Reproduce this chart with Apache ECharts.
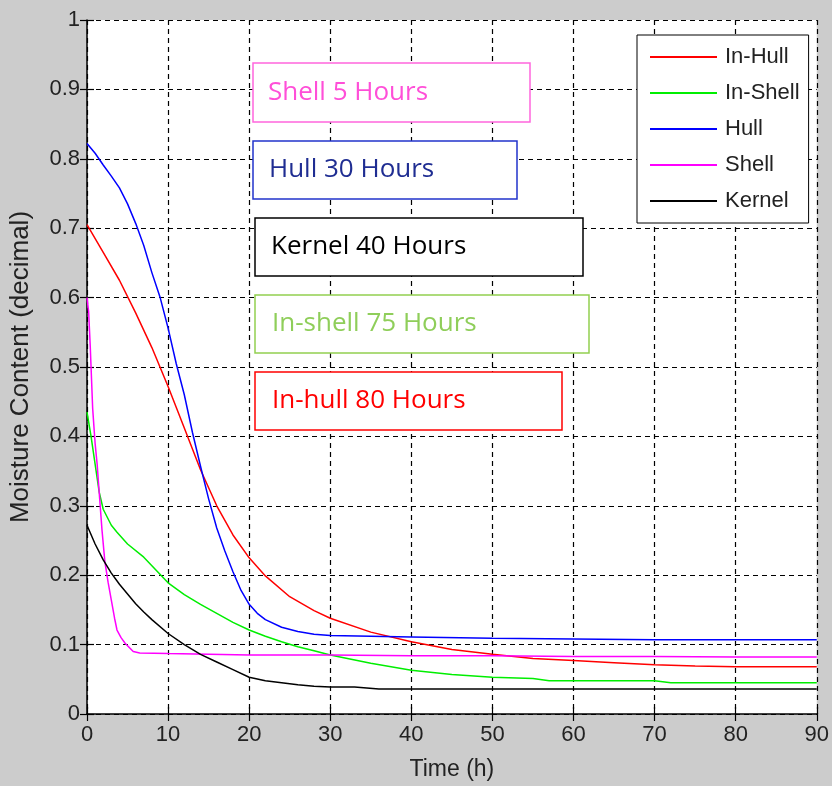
<!DOCTYPE html>
<html lang="en">
<head>
    <meta charset="UTF-8">
    <title>Moisture Content</title>
    <script src="https://cdn.jsdelivr.net/npm/echarts@6/dist/echarts.min.js"></script>
    <style>
        html, body { margin: 0; padding: 0; background: #cccccc; }
        #chart { width: 832px; height: 786px; }
    </style>
</head>
<body>
<div id="chart"></div>
<script>
    // axis ticks
    var xTicks = [0, 10, 20, 30, 40, 50, 60, 70, 80, 90];
    var yTicks = [0, 0.1, 0.2, 0.3, 0.4, 0.5, 0.6, 0.7, 0.8, 0.9, 1];

    // In-Hull (red)
    var inHullT = [0, 2, 4, 6, 8, 10, 12, 14, 16, 18, 20, 22, 25, 28, 30, 35, 40, 45, 50, 55, 60, 65, 70, 75, 80, 85, 90];
    var inHullV = [0.705, 0.665, 0.625, 0.578, 0.528, 0.472, 0.412, 0.352, 0.300, 0.258, 0.225, 0.199, 0.169, 0.149, 0.138, 0.118, 0.104, 0.093, 0.086, 0.080, 0.077, 0.074, 0.071, 0.069, 0.068, 0.068, 0.068];

    // In-Shell (green)
    var inShellT = [0, 0.5, 1, 1.5, 2, 3, 3.7, 5, 7, 10, 12, 14, 16, 18, 20, 22, 24, 26, 28, 30, 35, 40, 45, 50, 55, 57, 60, 70, 72, 80, 90];
    var inShellV = [0.435, 0.40, 0.36, 0.32, 0.295, 0.272, 0.262, 0.245, 0.226, 0.189, 0.172, 0.158, 0.145, 0.132, 0.121, 0.112, 0.104, 0.097, 0.091, 0.085, 0.073, 0.063, 0.057, 0.053, 0.051, 0.048, 0.048, 0.048, 0.045, 0.045, 0.045];

    // Hull (blue)
    var hullT = [0, 1, 2, 3, 4, 5, 6, 7, 8, 9, 10, 11, 12, 13, 14, 15, 16, 17, 18, 19, 20, 21, 22, 24, 26, 28, 30, 35, 40, 50, 60, 70, 80, 90];
    var hullV = [0.822, 0.808, 0.791, 0.775, 0.758, 0.735, 0.707, 0.675, 0.636, 0.601, 0.556, 0.505, 0.460, 0.406, 0.357, 0.310, 0.268, 0.235, 0.205, 0.178, 0.158, 0.145, 0.136, 0.125, 0.119, 0.115, 0.113, 0.112, 0.111, 0.109, 0.108, 0.107, 0.107, 0.107];

    // Shell (magenta)
    var shellT = [0, 0.2, 0.4, 0.7, 1, 1.25, 1.5, 1.85, 2.2, 2.6, 3, 3.4, 3.7, 4.2, 4.7, 5.7, 6.5, 10, 20, 30, 40, 50, 60, 70, 80, 90];
    var shellV = [0.60, 0.58, 0.53, 0.44, 0.39, 0.36, 0.32, 0.265, 0.22, 0.19, 0.164, 0.138, 0.121, 0.110, 0.102, 0.090, 0.088, 0.087, 0.085, 0.085, 0.084, 0.084, 0.083, 0.083, 0.082, 0.082];

    // Kernel (black)
    var kernelT = [0, 1, 2, 3, 4, 5, 6, 7, 8, 10, 12, 14, 16, 18, 20, 22, 24, 26, 28, 30, 33, 36, 40, 50, 60, 70, 80, 90];
    var kernelV = [0.272, 0.245, 0.222, 0.203, 0.187, 0.173, 0.159, 0.147, 0.136, 0.116, 0.100, 0.086, 0.075, 0.064, 0.053, 0.048, 0.045, 0.042, 0.040, 0.039, 0.039, 0.036, 0.036, 0.036, 0.036, 0.036, 0.036, 0.036];

    // annotation boxes
    var noteTexts = ['Shell 5 Hours', 'Hull 30 Hours', 'Kernel 40 Hours', 'In-shell 75 Hours', 'In-hull 80 Hours'];

    function pairs(t, v) {
        var out = [];
        for (var i = 0; i < t.length; i++) out.push([t[i], v[i]]);
        return out;
    }

    function makeLine(name, t, v, color) {
        return {
            name: name,
            type: 'line',
            data: pairs(t, v),
            symbol: 'none',
            smooth: false,
            animation: false,
            lineStyle: { color: color, width: 1.5 },
            itemStyle: { color: color }
        };
    }

    // box layout: [x, y, w, h, textX, textColor, borderColor]
    var boxes = [
        [253, 63, 277, 59, 268, '#ff4fd8', '#ff66dd'],
        [253, 141, 264, 58, 269, '#1f2d92', '#2233cc'],
        [255, 218, 328, 58, 271, '#000000', '#000000'],
        [255, 295, 334, 58, 272, '#8fce5a', '#92d050'],
        [255, 372, 307, 58, 272, '#ff0000', '#ff0000']
    ];
    var graphics = [];
    for (var i = 0; i < boxes.length; i++) {
        var b = boxes[i];
        graphics.push({
            type: 'rect',
            shape: { x: b[0], y: b[1], width: b[2], height: b[3] },
            style: { fill: '#ffffff', stroke: b[6], lineWidth: 1.5 },
            z: 100
        });
        graphics.push({
            type: 'text',
            x: b[4],
            y: b[1] + b[3] / 2,
            style: {
                text: noteTexts[i],
                fill: b[5],
                font: '26px "Open Sans"',
                verticalAlign: 'middle',
                align: 'left'
            },
            z: 101
        });
    }

    var gridLine = { show: true, lineStyle: { color: '#000', type: [5, 4], width: 1.2 } };
    var labelFont = { color: '#222', fontFamily: 'Liberation Sans', fontSize: 22 };

    var option = {
        backgroundColor: '#cccccc',
        animation: false,
        grid: {
            left: 87, right: 13, top: 20, bottom: 72,
            show: true, backgroundColor: '#ffffff', borderWidth: 0
        },
        legend: {
            left: 637, top: 35,
            orient: 'vertical',
            backgroundColor: '#ffffff',
            borderColor: '#000',
            borderWidth: 1,
            padding: [11, 9, 11, 13],
            icon: 'rect',
            itemWidth: 67,
            itemHeight: 2,
            itemGap: 14,
            textStyle: { color: '#222', fontFamily: 'Liberation Sans', fontSize: 22, padding: [0, 0, 0, 3] },
            data: ['In-Hull', 'In-Shell', 'Hull', 'Shell', 'Kernel']
        },
        xAxis: [{
            type: 'value',
            min: xTicks[0], max: xTicks[xTicks.length - 1], interval: 10,
            name: 'Time (h)',
            nameLocation: 'middle',
            nameGap: 44,
            nameTextStyle: { color: '#222', fontFamily: 'Liberation Sans', fontSize: 23 },
            axisLine: { show: true, onZero: false, lineStyle: { color: '#000', width: 1.5 } },
            axisTick: { show: true, inside: true, length: 7, lineStyle: { color: '#000', width: 1.2 } },
            axisLabel: Object.assign({ margin: 10 }, labelFont),
            splitLine: gridLine
        }, {
            type: 'value', position: 'top',
            min: xTicks[0], max: xTicks[xTicks.length - 1], interval: 10,
            axisLine: { show: false },
            axisTick: { show: true, inside: true, length: 7, lineStyle: { color: '#000', width: 1.2 } },
            axisLabel: { show: false },
            splitLine: { show: false }
        }],
        yAxis: [{
            type: 'value',
            min: yTicks[0], max: yTicks[yTicks.length - 1], interval: 0.1,
            name: 'Moisture Content (decimal)',
            nameLocation: 'middle',
            nameGap: 53,
            nameTextStyle: { color: '#222', fontFamily: 'Liberation Sans', fontSize: 26 },
            axisLine: { show: true, onZero: false, lineStyle: { color: '#000', width: 1.5 } },
            axisTick: { show: true, inside: true, length: 7, lineStyle: { color: '#000', width: 1.2 } },
            axisLabel: Object.assign({ margin: 7 }, labelFont),
            splitLine: gridLine
        }, {
            type: 'value', position: 'right',
            min: yTicks[0], max: yTicks[yTicks.length - 1], interval: 0.1,
            axisLine: { show: false },
            axisTick: { show: true, inside: true, length: 7, lineStyle: { color: '#000', width: 1.2 } },
            axisLabel: { show: false },
            splitLine: { show: false }
        }],
        series: [
            makeLine('In-Hull', inHullT, inHullV, '#ff0000'),
            makeLine('In-Shell', inShellT, inShellV, '#00ee00'),
            makeLine('Hull', hullT, hullV, '#0000ff'),
            makeLine('Shell', shellT, shellV, '#ff00ff'),
            makeLine('Kernel', kernelT, kernelV, '#000000')
        ],
        graphic: graphics
    };

    echarts.init(document.getElementById('chart')).setOption(option);
</script>
</body>
</html>
